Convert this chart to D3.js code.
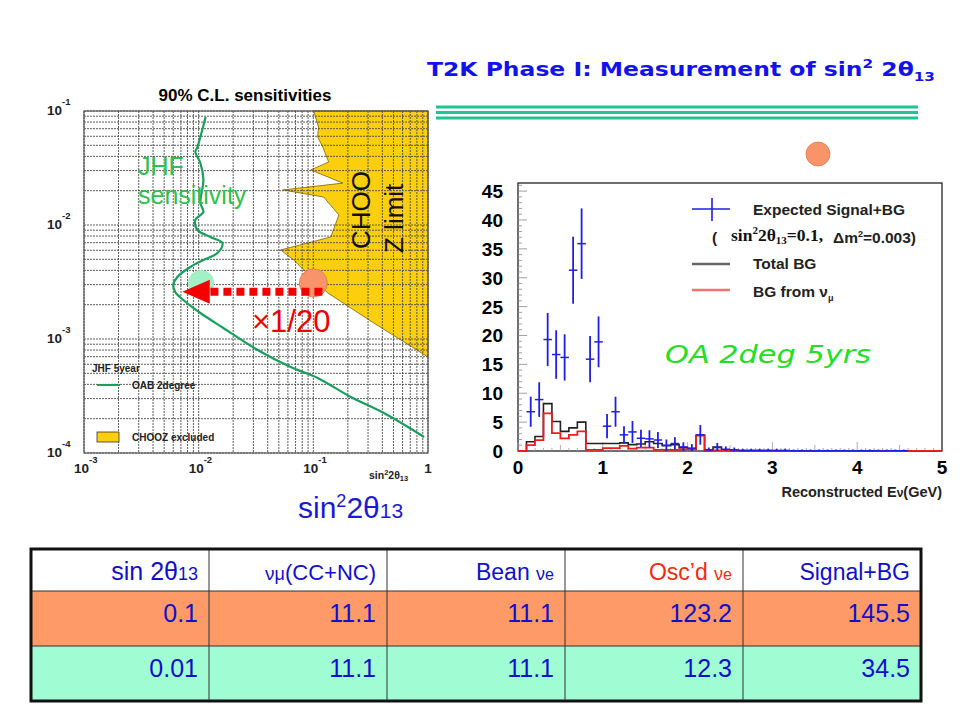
<!DOCTYPE html>
<html><head><meta charset="utf-8">
<script src="https://cdn.jsdelivr.net/npm/d3@7"></script>
<style>body{margin:0;background:#fff}svg{display:block}</style>
</head><body><svg id="c" width="960" height="720"></svg>
<script>
// ---------------- DATA ----------------
// Left plot: JHF 5-year OAB 2degree sensitivity curve (sin^2 2theta13, dm^2)
const jhfSin2 = [0.0115,0.00975,0.00935,0.01035,0.0110,0.01035,0.0110,0.00935,0.00975,0.01265,0.0161,0.0146,0.0110,0.00845,0.00652,0.00601,0.00625,0.00735,0.01035,0.0164,0.0327,0.0634,0.109,0.212,0.413,0.925];
const jhfDm2  = [0.0886,0.0483,0.0437,0.035,0.0248,0.0156,0.0130,0.01107,0.00904,0.00785,0.00695,0.00568,0.00493,0.00428,0.0035,0.00298,0.00258,0.0022,0.00169,0.00125,0.0008,0.000568,0.000455,0.00031,0.000224,0.000138];
// CHOOZ excluded region boundary
const choozSin2 = [0.1007,0.111,0.109,0.121,0.136,0.0948,0.181,0.054,0.123,0.167,0.142,0.0519,0.0674,0.0859,0.134,0.337,1.0,1.0];
const choozDm2  = [0.1,0.0724,0.0591,0.0483,0.0357,0.0304,0.0233,0.0203,0.0176,0.01225,0.00785,0.00604,0.00493,0.00387,0.00253,0.00138,0.000695,0.1];
const leftXTicks = [1e-3,1e-2,1e-1,1];
const leftXTickExp = ["-3","-2","-1",""];
const leftYTicks = [1e-1,1e-2,1e-3,1e-4];
const leftYTickExp = ["-1","-2","-3","-4"];
// markers (sin^2 2theta13, dm^2)
const pointOrange = [0.1, 0.0031];
const pointGreen = [0.0105, 0.0031];
const arrowFrom = 0.12, arrowHeadBase = 0.0125, arrowTip = 0.0072, arrowDm2 = 0.0026;

// Right plot: histogram, bins of 0.1 GeV from 0 to 5 GeV
const binWidth = 0.1;
const bgTotal = [0,1.6,2.5,8.2,5.1,3.4,4.0,5.0,1.3,1.3, 1.3,1.3,1.4,1.1,1.2,1.6,1.3,0.9,1.1,0.6, 0.4,2.7,0.1,0.7,0.2,0.1,0.05,0.05,0.05,0.05, 0.05,0.05,0.05,0.05,0.05,0.05,0.05,0.05,0.05,0.05, 0.05,0.05,0.05,0.05,0.05,0.05,0.05,0.05,0.05,0.05];
const bgNumu  = [0,1.0,1.9,6.5,3.1,2.2,2.8,3.4,0.2,0.2, 0.5,0.5,0.9,0.4,0.6,0.6,0.2,0.2,0.2,0.3, 0.3,2.7,0.1,0.1,0.1,0.05,0.05,0.05,0.05,0.05, 0.02,0.02,0.02,0.02,0.02,0.02,0.02,0.02,0.02,0.02, 0.02,0.02,0.02,0.02,0.02,0.02,0.02,0.02,0.02,0.02];
const sigBG   = [0,6.8,8.9,19.3,16.7,16.2,31.3,35.9,15.9,18.9, 4.3,6.8,2.8,3.3,2.2,2.1,1.9,1.0,1.3,0.7, 0.5,2.8,0.2,0.6,0.3,0.2,0.1,0.1,0.1,0.1, 0.1,0.1,0.05,0.05,0.05,0.05,0.05,0.05,0.05,0.05, 0.05,0.05,0.05,0.05,0.05,0.05,0,0,0,0];
const sigErr  = [0,2.6,3.0,4.6,4.2,4.0,5.8,6.1,4.0,4.4, 2.1,2.6,1.5,1.9,1.5,1.5,1.4,1.0,1.1,0.8, 0.7,1.7,0.4,0.8,0.5,0.4,0.3,0.3,0.3,0.3, 0.3,0.3,0.2,0.2,0.2,0.2,0.2,0.2,0.2,0.2, 0.2,0.2,0.2,0.2,0.2,0.2,0,0,0,0];
const histYTicks = [0,5,10,15,20,25,30,35,40,45];
const histXTicks = [0,1,2,3,4,5];

// Table
const tableRow1 = ["0.1","11.1","11.1","123.2","145.5"];
const tableRow2 = ["0.01","11.1","11.1","12.3","34.5"];

// ---------------- DRAW ----------------
const svg = d3.select("#c");
const SANS = "'Liberation Sans', Arial, sans-serif";

function rich(sel, x, y, parts, anchor, base) {
  const t = sel.append("text").attr("x", x).attr("y", y)
    .attr("text-anchor", anchor || "start").attr("font-family", SANS);
  if (base) Object.entries(base).forEach(([k, v]) => t.attr(k, v));
  let prev = 0;
  parts.forEach(p => {
    const off = p.off || 0;
    const ts = t.append("tspan").attr("dy", off - prev).text(p.t);
    if (p.size) ts.attr("font-size", p.size);
    if (p.fill) ts.attr("fill", p.fill);
    if (p.family) ts.attr("font-family", p.family);
    if (p.weight) ts.attr("font-weight", p.weight);
    prev = off;
  });
  return t;
}

// Title
rich(svg, 427, 76, [
  {t: "T2K Phase I: Measurement of sin"},
  {t: "2", size: 13, off: -8},
  {t: " 2θ", off: 0},
  {t: "13", size: 13, off: 5}
], "start", {"font-size": 20, "font-weight": "bold", fill: "#1212ee", "font-family": "'DejaVu Sans', sans-serif", textLength: 508, lengthAdjust: "spacingAndGlyphs"});

// teal lines under title
[107, 112.5, 118].forEach(y => svg.append("line").attr("x1", 436).attr("x2", 918)
  .attr("y1", y).attr("y2", y).attr("stroke", "#1fc492").attr("stroke-width", 3));

// ===== LEFT PLOT =====
const xL = d3.scaleLog().domain([1e-3, 1]).range([84, 428]);
const yL = d3.scaleLog().domain([1e-4, 1e-1]).range([453, 111]);
const L = svg.append("g");

// CHOOZ region
L.append("path")
  .attr("d", d3.line().x(d => xL(d[0])).y(d => yL(d[1]))(choozSin2.map((s, i) => [s, choozDm2[i]])) + "Z")
  .attr("fill", "#fbcf0c").attr("stroke", "#7a6408").attr("stroke-width", 0.8);

// grid
const gx = xL.ticks(), gy = yL.ticks();
L.selectAll(".gx").data(gx).join("line")
  .attr("x1", d => xL(d)).attr("x2", d => xL(d)).attr("y1", 111).attr("y2", 453)
  .attr("stroke", "#4a4a4a").attr("stroke-width", 0.9).attr("stroke-dasharray", "2,1");
L.selectAll(".gy").data(gy).join("line")
  .attr("y1", d => yL(d)).attr("y2", d => yL(d)).attr("x1", 84).attr("x2", 428)
  .attr("stroke", "#4a4a4a").attr("stroke-width", 0.9).attr("stroke-dasharray", "2,1");
L.append("rect").attr("x", 84).attr("y", 111).attr("width", 344).attr("height", 342)
  .attr("fill", "none").attr("stroke", "#555").attr("stroke-width", 1.2);

// title
L.append("text").attr("x", 245).attr("y", 101).attr("text-anchor", "middle")
  .attr("font-family", SANS).attr("font-weight", "bold").attr("font-size", 17)
  .text("90% C.L. sensitivities");

// tick labels
leftYTicks.forEach((v, i) => {
  rich(L, 47, yL(v) + 4, [{t: "10"}, {t: leftYTickExp[i], size: 9.5, off: -10}], "start",
    {"font-size": 13.5, "font-weight": "bold", fill: "#222"});
});
leftXTicks.forEach((v, i) => {
  if (leftXTickExp[i]) {
    rich(L, xL(v) - 10, 473, [{t: "10"}, {t: leftXTickExp[i], size: 9.5, off: -10}], "start",
      {"font-size": 13.5, "font-weight": "bold", fill: "#222"});
  } else {
    L.append("text").attr("x", xL(v)).attr("y", 473).attr("text-anchor", "middle")
      .attr("font-family", SANS).attr("font-size", 13.5).attr("font-weight", "bold").attr("fill", "#222").text("1");
  }
});
rich(L, 369, 479, [{t: "sin"}, {t: "2", size: 7.5, off: -4}, {t: "2θ", off: 0}, {t: "13", size: 7.5, off: 2}], "start",
  {"font-size": 10.5, "font-weight": "bold", fill: "#222"});

// green circle (behind arrow)
L.append("circle").attr("cx", xL(pointGreen[0])).attr("cy", yL(pointGreen[1])).attr("r", 13).attr("fill", "#a4f0c6");

// JHF curve
L.append("path")
  .attr("d", d3.line().curve(d3.curveCatmullRom).x(d => xL(d[0])).y(d => yL(d[1]))(jhfSin2.map((s, i) => [s, jhfDm2[i]])))
  .attr("fill", "none").attr("stroke", "#17a05c").attr("stroke-width", 2.2);

// legend
L.append("text").attr("x", 92).attr("y", 372).attr("font-family", SANS).attr("font-weight", "bold")
  .attr("font-size", 10).attr("fill", "#222").text("JHF 5year");
L.append("line").attr("x1", 97).attr("x2", 120).attr("y1", 385).attr("y2", 385).attr("stroke", "#17a05c").attr("stroke-width", 2);
L.append("text").attr("x", 132).attr("y", 389).attr("font-family", SANS).attr("font-weight", "bold")
  .attr("font-size", 10).attr("fill", "#222").text("OAB 2degree");
L.append("rect").attr("x", 97).attr("y", 432).attr("width", 22).attr("height", 10).attr("fill", "#fbcf0c").attr("stroke", "#333").attr("stroke-width", 0.8);
L.append("text").attr("x", 132).attr("y", 441).attr("font-family", SANS).attr("font-weight", "bold")
  .attr("font-size", 10).attr("fill", "#222").text("CHOOZ excluded");

// annotations
L.append("text").attr("x", 138).attr("y", 175).attr("font-family", SANS).attr("font-size", 25).attr("fill", "#2fc04c").text("JHF");
L.append("text").attr("x", 138).attr("y", 204).attr("font-family", SANS).attr("font-size", 25).attr("fill", "#2fc04c").text("sensitivity");
L.append("text").attr("transform", "translate(370,249) rotate(-90)").attr("font-family", SANS).attr("font-size", 26).attr("fill", "#111").text("CHOO");
L.append("text").attr("transform", "translate(403,253) rotate(-90)").attr("font-family", SANS).attr("font-size", 26).attr("fill", "#111").text("Z limit");

// orange circle
L.append("circle").attr("cx", xL(pointOrange[0])).attr("cy", yL(pointOrange[1])).attr("r", 14)
  .attr("fill", "#f9946a").attr("stroke", "#e07a50").attr("stroke-width", 0.8);

// dotted arrow
const ay = yL(arrowDm2);
L.append("line").attr("x1", xL(arrowFrom)).attr("x2", xL(arrowHeadBase)).attr("y1", ay).attr("y2", ay)
  .attr("stroke", "#f40000").attr("stroke-width", 8).attr("stroke-dasharray", "8,5");
L.append("path").attr("d", `M${xL(arrowTip)},${ay} L${xL(arrowHeadBase)},${ay - 12} L${xL(arrowHeadBase)},${ay + 12} Z`).attr("fill", "#f40000");
L.append("text").attr("x", 252).attr("y", 332).attr("font-family", SANS).attr("font-size", 31).attr("fill", "#f00000").text("×1/20");

// big axis label under left plot
rich(svg, 298, 518, [{t: "sin"}, {t: "2", size: 18, off: -11}, {t: "2θ", off: 0}, {t: "13", size: 21, off: 0}], "start",
  {"font-size": 30, fill: "#1a1ad6"});

// ===== RIGHT PLOT =====
const xH = d3.scaleLinear().domain([0, 5]).range([518, 942]);
const yH = d3.scaleLinear().domain([0, 46.4]).range([451, 183]);
const R = svg.append("g");

R.append("rect").attr("x", 518).attr("y", 183).attr("width", 424).attr("height", 268)
  .attr("fill", "#fff").attr("stroke", "#111").attr("stroke-width", 1.2);
// ticks
R.selectAll(".ty").data(d3.range(0, 47, 1)).join("line")
  .attr("x1", 518).attr("x2", d => 518 + (d % 5 === 0 ? 9 : 4)).attr("y1", d => yH(d)).attr("y2", d => yH(d))
  .attr("stroke", "#888").attr("stroke-width", 0.8);
R.selectAll(".tx").data(d3.range(0, 50, 1)).join("line")
  .attr("x1", d => xH(d * binWidth)).attr("x2", d => xH(d * binWidth))
  .attr("y1", 451).attr("y2", d => 451 - (d % 10 === 0 ? 9 : (d % 5 === 0 ? 6 : 3)))
  .attr("stroke", "#999").attr("stroke-width", 0.8);
R.selectAll(".ly").data(histYTicks).join("text")
  .attr("x", 503).attr("y", d => yH(d) + 7).attr("text-anchor", "end")
  .attr("font-family", SANS).attr("font-weight", "bold").attr("font-size", 19).text(d => d);
R.selectAll(".lx").data(histXTicks).join("text")
  .attr("x", d => xH(d)).attr("y", 474).attr("text-anchor", "middle")
  .attr("font-family", SANS).attr("font-weight", "bold").attr("font-size", 19).text(d => d);
rich(R, 942, 497, [{t: "Reconstructed E"}, {t: "ν", size: 12}, {t: "(GeV)"}], "end",
  {"font-size": 14.5, "font-weight": "bold", fill: "#222"});

// histograms
const stepLine = vals => d3.line().curve(d3.curveStepAfter).x(d => xH(d[0])).y(d => yH(d[1]))(
  vals.map((v, i) => [i * binWidth, v]).concat([[vals.length * binWidth, vals[vals.length - 1]]]));
R.append("path").attr("d", stepLine(bgTotal)).attr("fill", "none").attr("stroke", "#222").attr("stroke-width", 1.6);
R.append("path").attr("d", stepLine(bgNumu)).attr("fill", "none").attr("stroke", "#ee1c1c").attr("stroke-width", 1.8);

// signal + BG crosses
const pts = sigBG.map((v, i) => ({v, e: sigErr[i], i})).filter(d => d.v > 0);
const blue = "#1e1ee6";
R.selectAll(".ph").data(pts).join("line")
  .attr("x1", d => xH(d.i * binWidth)).attr("x2", d => xH((d.i + 1) * binWidth))
  .attr("y1", d => yH(d.v)).attr("y2", d => yH(d.v)).attr("stroke", blue).attr("stroke-width", 1.5);
R.selectAll(".pv").data(pts).join("line")
  .attr("x1", d => xH((d.i + 0.5) * binWidth)).attr("x2", d => xH((d.i + 0.5) * binWidth))
  .attr("y1", d => yH(Math.max(0, d.v - d.e))).attr("y2", d => yH(d.v + d.e)).attr("stroke", blue).attr("stroke-width", 1.8);

// legend
R.append("line").attr("x1", 692).attr("x2", 730).attr("y1", 209).attr("y2", 209).attr("stroke", blue).attr("stroke-width", 1.6);
R.append("line").attr("x1", 712).attr("x2", 712).attr("y1", 198).attr("y2", 221).attr("stroke", blue).attr("stroke-width", 1.6);
R.append("text").attr("x", 753).attr("y", 215).attr("font-family", SANS).attr("font-weight", "bold").attr("font-size", 15.5).attr("fill", "#222").text("Expected Signal+BG");
R.append("text").attr("x", 712).attr("y", 243).attr("font-family", SANS).attr("font-weight", "bold").attr("font-size", 15.5).attr("fill", "#222").text("(");
rich(R, 731, 241, [{t: "sin"}, {t: "2", size: 11, off: -7}, {t: "2θ", off: 0}, {t: "13", size: 11, off: 3}, {t: "=0.1,", off: 0}], "start",
  {"font-size": 17.5, "font-weight": "bold", fill: "#111", "font-family": "'Liberation Serif', 'Times New Roman', serif"});
rich(R, 833, 243, [{t: "Δm"}, {t: "2", size: 9, off: -6}, {t: "=0.003)", off: 0}], "start",
  {"font-size": 15.5, "font-weight": "bold", fill: "#222"});
R.append("line").attr("x1", 692).attr("x2", 730).attr("y1", 264).attr("y2", 264).attr("stroke", "#666").attr("stroke-width", 2.5);
R.append("text").attr("x", 753).attr("y", 269).attr("font-family", SANS).attr("font-weight", "bold").attr("font-size", 15.5).attr("fill", "#222").text("Total BG");
R.append("line").attr("x1", 692).attr("x2", 730).attr("y1", 290).attr("y2", 290).attr("stroke", "#f07272").attr("stroke-width", 2.5);
rich(R, 753, 297, [{t: "BG from ν"}, {t: "μ", size: 9, off: 4}], "start",
  {"font-size": 15.5, "font-weight": "bold", fill: "#222"});

R.append("text").attr("x", 665).attr("y", 363).attr("font-family", "'DejaVu Sans', sans-serif").attr("font-style", "italic")
  .attr("font-size", 25).attr("fill", "#22e022").attr("textLength", 206).attr("lengthAdjust", "spacingAndGlyphs").text("OA 2deg 5yrs");

svg.append("circle").attr("cx", 818).attr("cy", 154).attr("r", 12).attr("fill", "#f9946a").attr("stroke", "#e07a50").attr("stroke-width", 0.8);

// ===== TABLE =====
const T = svg.append("g");
const tx0 = 31, tx1 = 921, colW = (tx1 - tx0) / 5;
const rowY = [549, 591, 646, 701];
T.append("rect").attr("x", tx0).attr("y", rowY[0]).attr("width", tx1 - tx0).attr("height", rowY[1] - rowY[0]).attr("fill", "#fff");
T.append("rect").attr("x", tx0).attr("y", rowY[1]).attr("width", tx1 - tx0).attr("height", rowY[2] - rowY[1]).attr("fill", "#fe9a68");
T.append("rect").attr("x", tx0).attr("y", rowY[2]).attr("width", tx1 - tx0).attr("height", rowY[3] - rowY[2]).attr("fill", "#a0fcd2");
[rowY[1], rowY[2]].forEach(y => T.append("line").attr("x1", tx0).attr("x2", tx1).attr("y1", y).attr("y2", y).attr("stroke", "#333").attr("stroke-width", 1));
d3.range(1, 5).forEach(c => T.append("line").attr("x1", tx0 + c * colW).attr("x2", tx0 + c * colW).attr("y1", rowY[0]).attr("y2", rowY[3]).attr("stroke", "#333").attr("stroke-width", 1));
T.append("rect").attr("x", tx0).attr("y", rowY[0]).attr("width", tx1 - tx0).attr("height", rowY[3] - rowY[0])
  .attr("fill", "none").attr("stroke", "#111").attr("stroke-width", 3);

const tBlue = "#1010cc";
const hdr = [
  [{t: "sin 2θ", size: 25}, {t: "13", size: 18}],
  [{t: "ν", size: 19}, {t: "μ", size: 18}, {t: "(CC+NC)", size: 22}],
  [{t: "Bean "}, {t: "ν", size: 18}, {t: "e", size: 16}],
  [{t: "Osc’d "}, {t: "ν", size: 18}, {t: "e", size: 16}],
  [{t: "Signal+BG"}]
];
hdr.forEach((parts, c) => rich(T, tx0 + (c + 1) * colW - 11, 580, parts, "end",
  {"font-size": 23, fill: c === 3 ? "#f42a10" : tBlue}));
[tableRow1, tableRow2].forEach((row, r) => row.forEach((v, c) => {
  T.append("text").attr("x", tx0 + (c + 1) * colW - 11).attr("y", r === 0 ? 622 : 677).attr("text-anchor", "end")
    .attr("font-family", SANS).attr("font-size", 25).attr("fill", tBlue).text(v);
}));
</script></body></html>
